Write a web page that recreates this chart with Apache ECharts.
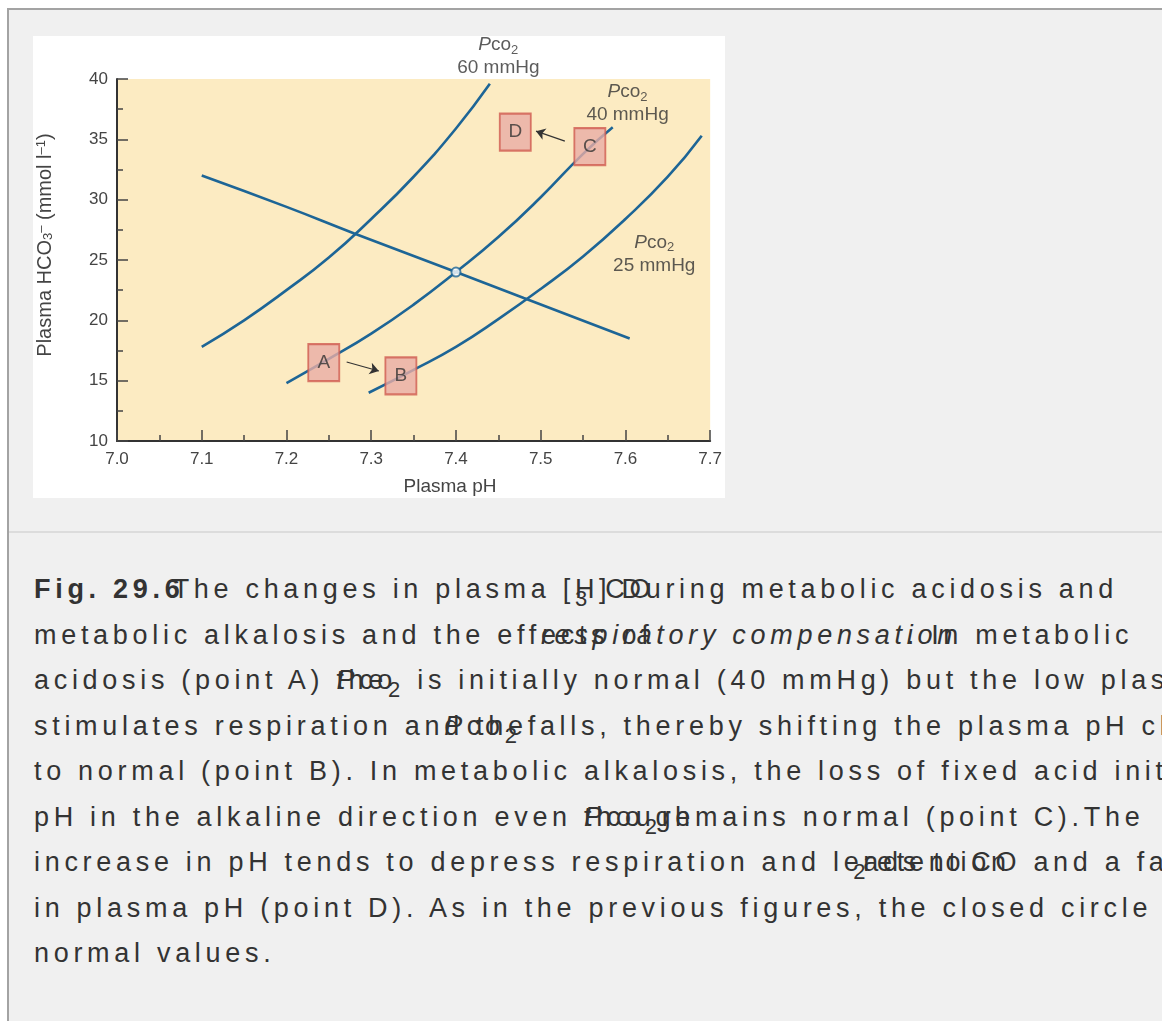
<!DOCTYPE html>
<html>
<head>
<meta charset="utf-8">
<script src="https://cdn.jsdelivr.net/npm/echarts@6/dist/echarts.min.js"></script>
<style>
html,body{margin:0;padding:0;width:1162px;height:1021px;overflow:hidden;background:#fff;}
#frame{position:absolute;left:7px;top:8px;width:1300px;height:1100px;background:#f0f0f0;border-top:2px solid #a3a3a3;border-left:2px solid #a3a3a3;}
#sep{position:absolute;left:9px;top:531px;width:1300px;height:2px;background:#dcdcdc;}
#chart{position:absolute;left:33px;top:36px;width:692px;height:462px;background:#fff;}
#cap{position:absolute;left:34px;top:567px;font-family:"Liberation Sans",Arial,sans-serif;font-size:27px;letter-spacing:4.7px;color:#333;line-height:45.5px;white-space:nowrap;}
#cap div{height:45.5px;}
.z{display:inline-block;width:0;white-space:nowrap;}
.sb{font-size:22px;position:relative;top:8px;}
</style>
</head>
<body>
<div id="frame"></div>
<div id="sep"></div>
<div id="chart"></div>
<div id="cap">
<div><b>Fig. 29.</b><b class="z">6</b><span style="margin-left:8px">The changes in plasma [</span><span class="z sb">3</span>H]<span style="margin-left:-6px">C</span><span class="z">O</span><span style="margin-left:-8px">During metabolic acidosis and</span></div>
<div>metabolic alkalosis and the eff<span class="z">ects of</span><i>respiratory compensat<span class="z" style="font-style:normal">. In metabolic</span>ion</i></div>
<div>acidosis (point A) <span class="z"><i>P</i>co</span>the<span class="sb">2</span> is initially normal (40 mmHg) but the low plasma pH</div>
<div>stimulates respiration an<span class="z"><i>P</i>co<span class="sb">2</span></span>d the<span>falls, thereby shifting the plasma pH close</span></div>
<div>to normal (point B). In metabolic alkalosis, the loss of fixed acid initially shifts</div>
<div>pH in the alkaline direction even <span class="z">though</span><i>P</i>co<span class="sb">2</span>remains normal (point C).The</div>
<div>increase in pH tends to depress respiration and le<span class="z sb" style="left:-10px">2</span><span class="z">ads to</span>retenti<span class="z">on</span>CO and a fall</div>
<div>in plasma pH (point D). As in the previous figures, the closed circle represents</div>
<div>normal values.</div>
</div>
<script>
// ---- data ----
const phMin = 7.0, phMax = 7.7, phStep = 0.1;
const hco3Min = 10, hco3Max = 40, hco3Step = 5;

const pco2_60 = [[7.10,17.8],[7.15,20.0],[7.20,22.5],[7.25,25.2],[7.30,28.4],[7.35,31.9],[7.40,35.9],[7.44,39.6]];
const pco2_40 = [[7.20,14.8],[7.25,16.8],[7.30,18.9],[7.35,21.3],[7.40,24.0],[7.45,26.9],[7.50,30.2],[7.55,33.8],[7.585,36.0]];
const pco2_25 = [[7.297,14.0],[7.35,15.9],[7.40,17.8],[7.45,20.1],[7.50,22.6],[7.55,25.3],[7.60,28.4],[7.65,31.9],[7.69,35.3]];
const bufferLine = [[7.10,32.0],[7.20,29.4],[7.28,27.2],[7.40,24.0],[7.48,21.85],[7.605,18.5]];
const normalPoint = [7.40, 24.0];

const boxNames = ['A','B','C','D'];
const boxPos = [[7.244,16.5],[7.335,15.4],[7.558,34.4],[7.470,35.6]];

const arrowFrom = [[7.271,16.55],[7.5285,34.85]];
const arrowTo   = [[7.309,15.80],[7.4945,35.68]];

const isoValues = ['60','40','25'];
const isoLabelPos = [[7.450,41.86],[7.6025,37.96],[7.634,25.5]];

// ---- chart ----
const lineColor = '#1d6596';
const font = '"Liberation Sans", Arial, sans-serif';
const chart = echarts.init(document.getElementById('chart'), null, {renderer:'canvas'});

function curve(name, data){
  return {type:'line', name, data, smooth:true, symbol:'none', clip:false,
    lineStyle:{color:lineColor, width:2.6}, z:2, silent:true};
}

const isoRich = {
  p:{fontFamily:font, fontSize:19, fontStyle:'italic', color:'#333', lineHeight:23},
  c:{fontFamily:font, fontSize:19, color:'#333', lineHeight:23},
  s:{fontFamily:font, fontSize:13, color:'#333', lineHeight:11, verticalAlign:'bottom'},
  m:{fontFamily:font, fontSize:19, color:'#333', lineHeight:23}
};

const option = {
  animation:false,
  grid:{left:84, top:43, width:596, height:362, show:true, backgroundColor:'#fcebc2', borderWidth:0},
  xAxis:{type:'value', min:phMin, max:phMax, interval:phStep,
    axisLine:{show:true, lineStyle:{color:'#333', width:2}},
    axisTick:{show:true, inside:true, length:11, lineStyle:{color:'#444', width:1.5}},
    minorTick:{show:true, splitNumber:2, length:6, lineStyle:{color:'#444', width:1.5}},
    splitLine:{show:false},
    axisLabel:{margin:10, fontFamily:font, fontSize:17, color:'#444', formatter:v=>v.toFixed(1)}
  },
  yAxis:{type:'value', min:hco3Min, max:hco3Max, interval:hco3Step,
    axisLine:{show:true, lineStyle:{color:'#333', width:2}},
    axisTick:{show:true, inside:true, length:11, lineStyle:{color:'#444', width:1.5}},
    minorTick:{show:true, splitNumber:2, length:6, lineStyle:{color:'#444', width:1.5}},
    splitLine:{show:false},
    axisLabel:{margin:9, fontFamily:font, fontSize:17, color:'#444'}
  },
  graphic:[
    {type:'text', x:12, y:209, rotation:Math.PI/2,
     style:{text:'Plasma HCO{sb|3}{sp|–} (mmol l{sp|–1})', align:'center', verticalAlign:'middle',
       textAlign:'center', textVerticalAlign:'middle', fill:'#444',
       font:'20px "Liberation Sans", Arial, sans-serif',
       rich:{
         sb:{fontFamily:font, fontSize:13, lineHeight:12, verticalAlign:'bottom', fill:'#444', color:'#444'},
         sp:{fontFamily:font, fontSize:13, lineHeight:12, verticalAlign:'top', fill:'#444', color:'#444'}
       }}},
    {type:'text', x:417, y:451,
     style:{text:'Plasma pH', align:'center', verticalAlign:'middle', textAlign:'center', textVerticalAlign:'middle',
       fill:'#444', font:'19px "Liberation Sans", Arial, sans-serif'}}
  ],
  series:[
    curve('Pco2 60 mmHg', pco2_60),
    curve('Pco2 40 mmHg', pco2_40),
    curve('Pco2 25 mmHg', pco2_25),
    curve('buffer line', bufferLine),
    {type:'scatter', name:'normal', data:[normalPoint], symbol:'circle', symbolSize:9, z:4,
     itemStyle:{color:'#ffffff', borderColor:lineColor, borderWidth:2}},
    {type:'lines', coordinateSystem:'cartesian2d', z:5, symbol:['none','arrow'], symbolSize:9,
     lineStyle:{color:'#333', width:1.2, opacity:1},
     data: arrowFrom.map((f,i)=>({coords:[f, arrowTo[i]]}))},
    {type:'scatter', name:'boxes', z:6, symbol:'rect', symbolSize:[31,37],
     itemStyle:{color:'#e9aca5', borderColor:'#cf5b50', borderWidth:2},
     label:{show:true, position:'inside', formatter:p=>p.name, fontFamily:font, fontSize:19, color:'#333'},
     data: boxNames.map((n,i)=>({name:n, value:boxPos[i]}))},
    {type:'scatter', name:'iso labels', z:7, clip:false, symbol:'circle', symbolSize:1,
     itemStyle:{color:'rgba(0,0,0,0)'},
     label:{show:true, position:'inside', align:'center', verticalAlign:'middle',
       formatter:p=>'{p|P}{c|co}{s|2}\n{m|'+p.name+' mmHg}', rich:isoRich},
     data: isoValues.map((v,i)=>({name:v, value:isoLabelPos[i]}))}
  ]
};
chart.setOption(option);
</script>
</body>
</html>
